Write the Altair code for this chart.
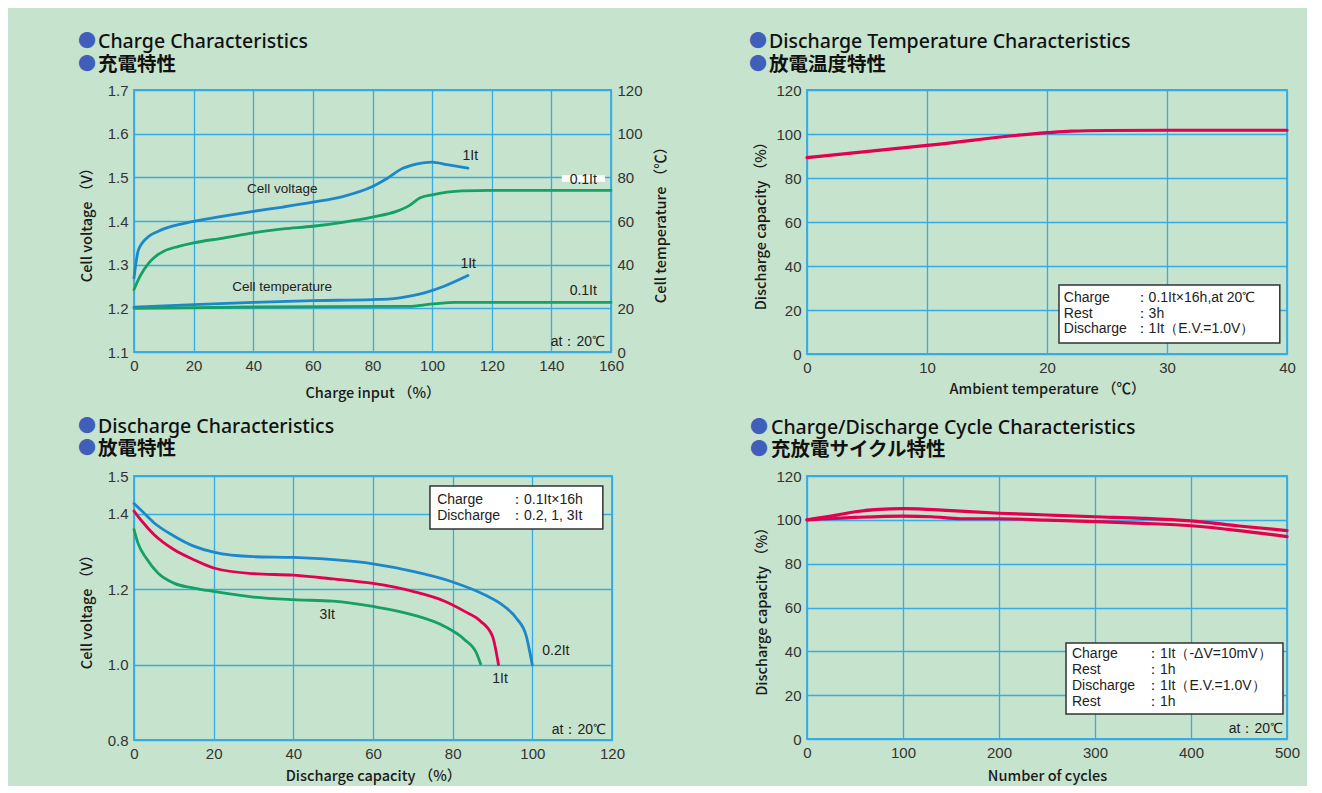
import altair as alt
import pandas as pd

# ---------------- data ----------------
# Charge characteristics (cell voltage, V)
chg_x_v1 = [0, 1.5, 5, 8, 10, 20, 30, 40, 50, 60, 70, 80, 85, 90, 95, 100, 105, 112]
chg_v_1it = [1.27, 1.334, 1.365, 1.376, 1.382, 1.399, 1.411, 1.422, 1.432, 1.443, 1.456, 1.479,
             1.498, 1.520, 1.531, 1.535, 1.529, 1.521]
chg_x_v01 = [0, 2, 5, 8, 10, 15, 20, 30, 40, 50, 60, 70, 80, 88, 92, 96, 100, 105, 110, 120, 140, 160]
chg_v_01it = [1.243, 1.273, 1.304, 1.323, 1.331, 1.342, 1.350, 1.361, 1.373, 1.382, 1.388, 1.397,
              1.409, 1.422, 1.434, 1.453, 1.460, 1.466, 1.469, 1.470, 1.470, 1.470]
# Charge characteristics (cell temperature, degC)
chg_x_t1 = [0, 20, 40, 60, 80, 86, 92, 98, 104, 112]
chg_t_1it = [20.5, 21.7, 22.7, 23.5, 24.0, 24.3, 25.5, 27.3, 30.1, 35.0]
chg_x_t01 = [0, 40, 92, 100, 108, 120, 160]
chg_t_01it = [20.0, 20.6, 20.9, 22.0, 22.7, 22.7, 22.7]

# Discharge temperature characteristics
dt_x = [0, 10, 20, 22, 25, 30, 40]
dt_y = [89.3, 94.8, 100.6, 101.3, 101.6, 101.7, 101.7]

# Discharge characteristics
d02_x = [0, 2, 5, 10, 15, 20, 30, 40, 50, 60, 70, 80, 88, 93, 96, 98.5, 100]
d02_y = [1.427, 1.407, 1.376, 1.341, 1.314, 1.298, 1.286, 1.284, 1.278, 1.267, 1.247, 1.219,
         1.185, 1.154, 1.123, 1.075, 0.999]
d1_x = [0, 2, 5, 10, 15, 20, 30, 40, 50, 60, 70, 78, 83, 87, 90, 91.5]
d1_y = [1.407, 1.380, 1.345, 1.305, 1.278, 1.256, 1.241, 1.237, 1.227, 1.215, 1.194, 1.168,
        1.141, 1.115, 1.075, 1.0]
d3_x = [0, 1, 3, 6, 10, 15, 20, 30, 40, 50, 60, 70, 78, 83, 86, 87]
d3_y = [1.358, 1.322, 1.283, 1.243, 1.216, 1.203, 1.194, 1.179, 1.172, 1.168, 1.154, 1.132,
        1.101, 1.066, 1.030, 1.002]

# Charge/discharge cycle characteristics
cyc_a_x = [0, 25, 50, 75, 100, 150, 200, 250, 300, 350, 400, 450, 500]
cyc_a_y = [100, 101.7, 103.7, 104.8, 105.1, 104.2, 103.0, 102.2, 101.4, 100.7, 99.5, 97.2, 95.1]
cyc_b_x = [0, 50, 100, 130, 160, 200, 250, 300, 350, 400, 450, 500]
cyc_b_y = [100, 101.1, 101.7, 101.4, 100.5, 100.5, 99.9, 99.2, 98.4, 97.3, 95.1, 92.3]

titles_en = ["Charge Characteristics", "Discharge Temperature Characteristics",
             "Discharge Characteristics", "Charge/Discharge Cycle Characteristics"]
titles_jp = ["充電特性", "放電温度特性", "放電特性", "充放電サイクル特性"]

series_names = ["v1", "v01", "t1", "t01", "dt", "d02", "d1", "d3", "ca", "cb"]

# ---------------- style ----------------
BG = "#c6e3cd"
GRID = "#35ace4"
BLUE = "#1c88cb"
GREEN = "#15a064"
RED = "#e2004f"
BULLET = "#3f5fba"
FONT_NUM = "Liberation Sans"
FONT_JP = "Noto Sans CJK JP"
FONT_TITLE = "Noto Sans"
series_colors = [BLUE, GREEN, BLUE, GREEN, RED, BLUE, RED, GREEN, RED, RED]
color_scale = alt.Scale(domain=series_names, range=series_colors)


def sdf(name, xs, ys):
    return pd.DataFrame({"x": xs, "y": ys, "series": name})


def lines(df, xs, xa, ys, ya, width=2.8):
    return alt.Chart(df).mark_line(strokeWidth=width, interpolate="monotone", strokeCap="round").encode(
        x=alt.X("x:Q", scale=xs, axis=xa),
        y=alt.Y("y:Q", scale=ys, axis=ya),
        color=alt.Color("series:N", scale=color_scale, legend=None),
    )


def texts(xv, yv, labels, xs, xa, ys, ya, align="center", size=14, font=FONT_NUM):
    df = pd.DataFrame({"x": xv, "y": yv, "label": labels})
    return alt.Chart(df).mark_text(align=align, baseline="middle", fontSize=size, font=font,
                                   color="#222222").encode(
        x=alt.X("x:Q", scale=xs, axis=xa),
        y=alt.Y("y:Q", scale=ys, axis=ya),
        text="label:N",
    )


def box(x1, x2, y1, y2, xs, xa, ys, ya, stroke="#333333"):
    df = pd.DataFrame({"x": [x1], "x2": [x2], "y": [y1], "y2": [y2]})
    return alt.Chart(df).mark_rect(fill="white", stroke=stroke, strokeWidth=1.5).encode(
        x=alt.X("x:Q", scale=xs, axis=xa), x2="x2:Q",
        y=alt.Y("y:Q", scale=ys, axis=ya), y2="y2:Q",
    )


def label_gap(x1, x2, y1, y2, xs, xa, ys, ya):
    df = pd.DataFrame({"x": [x1], "x2": [x2], "y": [y1], "y2": [y2]})
    return alt.Chart(df).mark_rect(fill="white").encode(
        x=alt.X("x:Q", scale=xs, axis=xa), x2="x2:Q",
        y=alt.Y("y:Q", scale=ys, axis=ya), y2="y2:Q",
    )


def title_layers(i, bx, tx, y1, y2):
    out = []
    for txt, yy, font, w in [(titles_en[i], y1, FONT_TITLE, 500), (titles_jp[i], y2, FONT_JP, "bold")]:
        out.append(alt.Chart(pd.DataFrame({"t": ["●"]})).mark_text(
            align="center", baseline="middle", font=FONT_JP, fontSize=18, color=BULLET
        ).encode(x=alt.value(bx), y=alt.value(yy), text="t:N"))
        out.append(alt.Chart(pd.DataFrame({"t": [txt]})).mark_text(
            align="left", baseline="middle", font=font, fontSize=19.5, fontWeight=w, color="#111111"
        ).encode(x=alt.value(tx), y=alt.value(yy), text="t:N"))
    return out


# ---------------- panel 1: charge ----------------
x1s = alt.Scale(domain=[0, 160], nice=False, zero=False)
x1a = alt.Axis(values=list(range(0, 161, 20)), title="Charge input （%）", titlePadding=13)
yvs = alt.Scale(domain=[1.1, 1.7], nice=False, zero=False)
yva = alt.Axis(values=[1.1, 1.2, 1.3, 1.4, 1.5, 1.6, 1.7], format=".1f",
               title="Cell voltage （V）", titlePadding=13)
yts = alt.Scale(domain=[0, 120], nice=False)
yta = alt.Axis(orient="right", values=list(range(0, 121, 20)), grid=False,
               title="Cell temperature （℃）", titleAngle=270, titleBaseline="top", titlePadding=12)

volt_df = pd.concat([sdf("v1", chg_x_v1, chg_v_1it), sdf("v01", chg_x_v01, chg_v_01it)])
temp_df = pd.concat([sdf("t1", chg_x_t1, chg_t_1it), sdf("t01", chg_x_t01, chg_t_01it)])

p1_volt = alt.layer(
    label_gap(143.5, 158.0, 1.505, 1.490, x1s, x1a, yvs, yva),
    lines(volt_df, x1s, x1a, yvs, yva),
    texts([49.7, 49.7], [1.473, 1.249], ["Cell voltage", "Cell temperature"], x1s, x1a, yvs, yva, size=13.5),
    texts([112.8, 150.7, 112.1, 150.7], [1.549, 1.494, 1.3015, 1.240], ["1It", "0.1It", "1It", "0.1It"],
          x1s, x1a, yvs, yva, size=14),
    texts([158], [1.123], ["at：20℃"], x1s, x1a, yvs, yva, align="right", size=14),
)
p1_temp = lines(temp_df, x1s, x1a, yts, yta)
p1 = alt.layer(p1_volt, p1_temp, *title_layers(0, -47, -36, -48, -25)).resolve_scale(
    y="independent").properties(width=477, height=262)

# ---------------- panel 2: discharge temperature ----------------
x2s = alt.Scale(domain=[0, 40], nice=False)
x2a = alt.Axis(values=[0, 10, 20, 30, 40], title="Ambient temperature （℃）", titlePadding=7)
y2s = alt.Scale(domain=[0, 120], nice=False)
y2a = alt.Axis(values=list(range(0, 121, 20)), title="Discharge capacity （%）", titlePadding=7)
p2 = alt.layer(
    lines(sdf("dt", dt_x, dt_y), x2s, x2a, y2s, y2a, width=3.2),
    box(21.0, 39.4, 31.4, 5.0, x2s, x2a, y2s, y2a),
    texts([21.4, 21.4, 21.4], [25.5, 18.2, 11.4], ["Charge", "Rest", "Discharge"],
          x2s, x2a, y2s, y2a, align="left", size=14),
    texts([27.3, 27.3, 27.3], [25.5, 18.2, 11.4], ["：0.1It×16h,at 20℃", "：3h", "：1It（E.V.=1.0V）"],
          x2s, x2a, y2s, y2a, align="left", size=14),
    *title_layers(1, -49, -38, -48, -25),
).properties(width=480, height=264)

# ---------------- panel 3: discharge ----------------
x3s = alt.Scale(domain=[0, 120], nice=False)
x3a = alt.Axis(values=list(range(0, 121, 20)), title="Discharge capacity （%）", titlePadding=8)
y3s = alt.Scale(domain=[0.8, 1.5], nice=False, zero=False)
y3a = alt.Axis(values=[0.8, 1.0, 1.2, 1.4, 1.5], format=".1f", title="Cell voltage （V）", titlePadding=13)
dis_df = pd.concat([sdf("d02", d02_x, d02_y), sdf("d1", d1_x, d1_y), sdf("d3", d3_x, d3_y)])
p3 = alt.layer(
    lines(dis_df, x3s, x3a, y3s, y3a),
    texts([48.5, 91.9, 105.9], [1.131, 0.962, 1.036], ["3It", "1It", "0.2It"], x3s, x3a, y3s, y3a, size=14),
    box(74.3, 117.7, 1.4735, 1.3594, x3s, x3a, y3s, y3a),
    texts([76.1, 76.1], [1.4364, 1.394], ["Charge", "Discharge"], x3s, x3a, y3s, y3a, align="left", size=14),
    texts([94.4, 94.4], [1.4364, 1.394], ["：0.1It×16h", "：0.2, 1, 3It"], x3s, x3a, y3s, y3a,
          align="left", size=14),
    texts([118.5], [0.826], ["at：20℃"], x3s, x3a, y3s, y3a, align="right", size=14),
    *title_layers(2, -47, -36, -49, -27),
).properties(width=478, height=264)

# ---------------- panel 4: cycle ----------------
x4s = alt.Scale(domain=[0, 500], nice=False)
x4a = alt.Axis(values=list(range(0, 501, 100)), title="Number of cycles", titlePadding=9)
y4s = alt.Scale(domain=[0, 120], nice=False)
y4a = alt.Axis(values=list(range(0, 121, 20)), title="Discharge capacity （%）", titlePadding=6)
cyc_df = pd.concat([sdf("ca", cyc_a_x, cyc_a_y), sdf("cb", cyc_b_x, cyc_b_y)])
p4 = alt.layer(
    lines(cyc_df, x4s, x4a, y4s, y4a, width=3.2),
    box(269.8, 495.8, 43.8, 11.4, x4s, x4a, y4s, y4a),
    texts([276] * 4, [38.8, 31.5, 24.2, 16.9], ["Charge", "Rest", "Discharge", "Rest"],
          x4s, x4a, y4s, y4a, align="left", size=14),
    texts([353] * 4, [38.8, 31.5, 24.2, 16.9], ["：1It（-ΔV=10mV）", "：1h", "：1It（E.V.=1.0V）", "：1h"],
          x4s, x4a, y4s, y4a, align="left", size=14),
    texts([495.8], [4.6], ["at：20℃"], x4s, x4a, y4s, y4a, align="right", size=14),
    *title_layers(3, -48, -36, -48, -26),
).properties(width=480, height=263)

top = alt.hconcat(p1, p2, spacing=79)
bottom = alt.hconcat(p3, p4, spacing=123)

chart = alt.vconcat(top, bottom, spacing=15).properties(
    background=BG,
    padding={"left": 69, "top": 23, "right": 6, "bottom": 2},
).configure_view(
    stroke=GRID, strokeWidth=1.8
).configure_axis(
    labelFont=FONT_NUM, labelFontSize=15, labelColor="#333333", labelPadding=6, labelFlush=False,
    titleFont=FONT_JP, titleFontSize=14.5, titleFontWeight=500, titleColor="#1a1a1a",
    domain=False, ticks=False, gridColor=GRID, gridWidth=1.3, gridOpacity=1,
)

chart.save("out.html", embed_options={"renderer": "svg", "actions": False})
